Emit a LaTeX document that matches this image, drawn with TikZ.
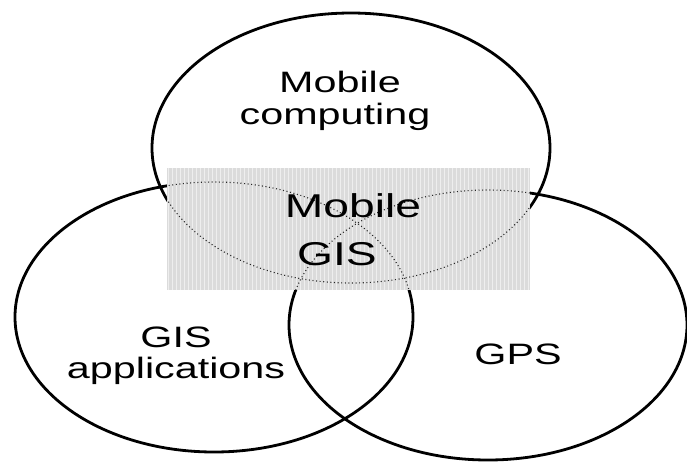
\documentclass[tikz,border=0pt]{standalone}
\usepackage{fontspec}
\newfontfamily\lbl[FakeStretch=1.4]{Liberation Sans}
\begin{document}
\begin{tikzpicture}[x=1pt,y=-1pt,
  ring/.style={draw=black,line width=2.8pt},
  dotring/.style={draw=black!85,line width=1.1pt,dash pattern=on 1pt off 2.6pt},
  outer/.style={font=\lbl\fontsize{29.5}{34}\selectfont,anchor=base,inner sep=0pt},
  inner/.style={font=\lbl\fontsize{33}{38}\selectfont,anchor=base,inner sep=0pt}]
\useasboundingbox (0,0) rectangle (687,461);
% centres
\coordinate (cTop) at (351,148);
\coordinate (cLeft) at (214,317);
\coordinate (cGPS) at (488,325);
\coordinate (rA) at (167,168);
\coordinate (rB) at (530,290);
% solid circles
\draw[ring] (cTop) ellipse [x radius=199, y radius=135];
\draw[ring] (cLeft) ellipse [x radius=199, y radius=135];
\draw[ring] (cGPS) ellipse [x radius=199, y radius=135];
% shaded overlap box
\fill[black!14] (rA) rectangle (rB);
\begin{scope}
  \clip (rA) rectangle (rB);
  \foreach \i in {0,...,91} {
    \draw[white,opacity=0.55,line width=1pt] (168+\i*4,168) -- (168+\i*4,290);
  }
  \draw[dotring] (cTop) ellipse [x radius=199, y radius=135];
  \draw[dotring] (cLeft) ellipse [x radius=199, y radius=135];
  \draw[dotring] (cGPS) ellipse [x radius=199, y radius=135];
\end{scope}
% labels
\node[outer] (mc1) at (340,92) {Mobile};
\node[outer] (mc2) at (335,124) {computing};
\node[inner] (mg1) at (353,217) {Mobile};
\node[inner] (mg2) at (337,265) {GIS};
\node[outer] (ga1) at (176,347) {GIS};
\node[outer] (ga2) at (176,378) {applications};
\node[outer] (gps) at (518,364) {GPS};
\end{tikzpicture}
\end{document}
